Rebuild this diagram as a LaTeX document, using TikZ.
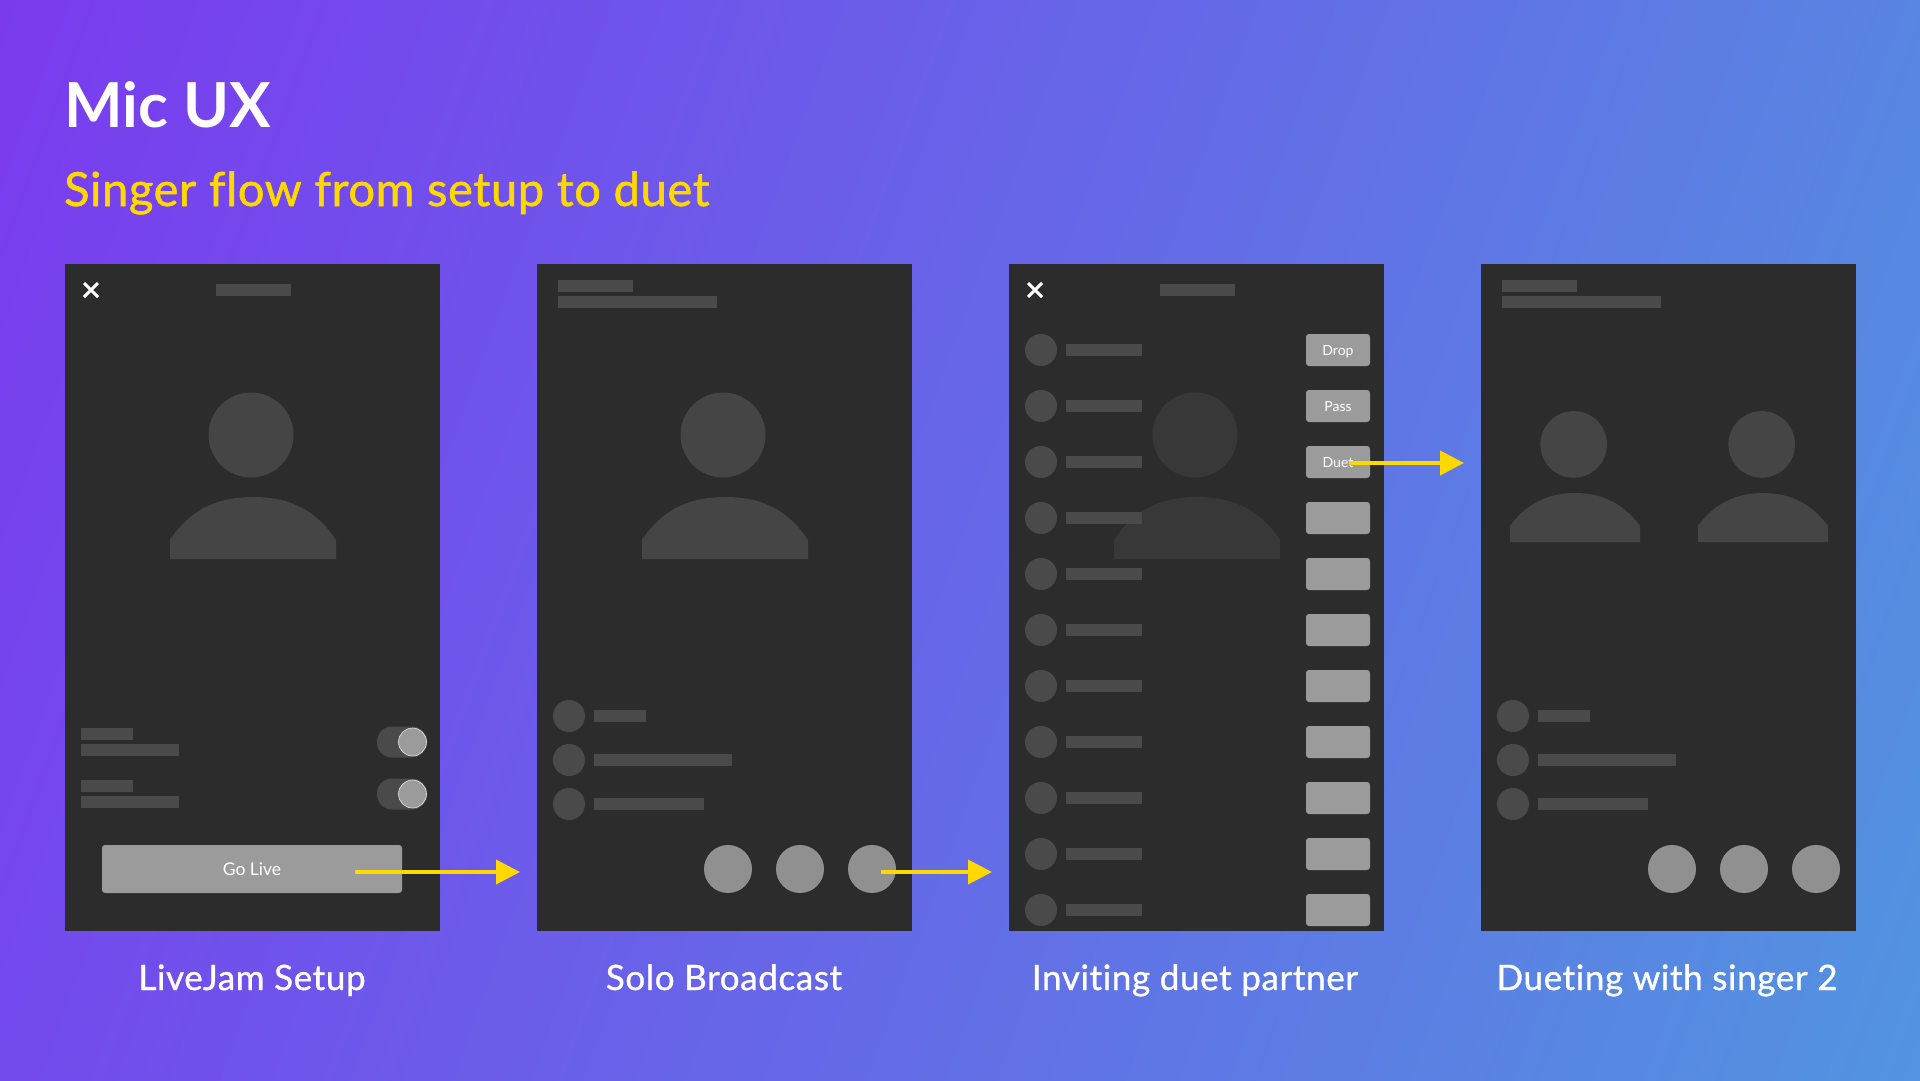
\documentclass[tikz,border=0pt]{standalone}
\usepackage{fontspec}
\setmainfont{Lato}[Ligatures=NoCommon]
\newfontfamily\subtitlefont{Lato}[FakeBold=1.2,LetterSpace=1.4,Ligatures=NoCommon]
\newfontfamily\captionfont{Lato}[FakeBold=0.9,LetterSpace=1.8,Ligatures=NoCommon]
\usetikzlibrary{arrows.meta,positioning}

\definecolor{bgstart}{HTML}{7A3BEF}
\definecolor{bgend}{HTML}{5294E0}
\definecolor{screen}{HTML}{2C2C2C}
\definecolor{figure}{HTML}{454545}
\definecolor{figuredim}{HTML}{383838}
\definecolor{stub}{HTML}{4A4A4A}
\definecolor{button}{HTML}{9B9B9B}
\definecolor{round}{HTML}{909090}
\definecolor{accent}{HTML}{FFD800}

\pgfdeclareverticalshading{bgsweep}{100bp}{color(0bp)=(bgend); color(18bp)=(bgend); color(82bp)=(bgstart); color(100bp)=(bgstart)}

\tikzset{
	screenbox/.style={fill=screen, minimum width=375pt, minimum height=667pt, inner sep=0pt, outer sep=0pt},
	bar/.style={fill=stub, minimum height=12pt, inner sep=0pt, anchor=west},
	dot/.style={circle, fill=stub, minimum size=32pt, inner sep=0pt},
	bigdot/.style={circle, fill=round, minimum size=48pt, inner sep=0pt},
	btn/.style={fill=button, rounded corners=3pt, minimum width=64pt, minimum height=32pt, inner sep=0pt, text=white, font=\fontsize{14}{14}\selectfont},
	btnlabel/.style={btn, fill=none, text height=10.6pt, text depth=0pt},
	caption/.style={text=white, font=\fontsize{35}{35}\selectfont\captionfont, anchor=base},
	link/.style={draw=accent, line width=4pt, -{Triangle[length=24pt,width=24pt,fill=accent]}},
}

% colour, head x, head y, radius, body x, half width, top, shoulder, bottom
\newcommand{\drawperson}[9]{
	\fill[#1] (#2,#3) circle (#4pt);
	\fill[#1] (#5-#6,#9) -- (#5-#6,#8) .. controls (#5-#6*0.72,#7+8) and (#5-#6*0.36,#7) .. (#5,#7)
		.. controls (#5+#6*0.36,#7) and (#5+#6*0.72,#7+8) .. (#5+#6,#8) -- (#5+#6,#9) -- cycle;
}

\begin{document}
\begin{tikzpicture}[x=1pt, y=-1pt]
	\useasboundingbox (0,0) rectangle (1920,1080);
	\shade[shading=bgsweep, shading angle=70] (0,0) rectangle (1920,1080);

	% Title
	\node[anchor=base west, inner sep=0pt, text=white, font=\fontsize{62}{62}\selectfont\bfseries] (title) at (64,127) {Mic UX};
	\node[anchor=base west, inner sep=0pt, text=accent, font=\fontsize{47}{47}\selectfont\subtitlefont] (subtitle) at (64,206) {Singer flow from setup to duet};

	% Draw the screens
	\node[screenbox, anchor=north west] (s1) at (65,264) {};
	\node[screenbox, right=97pt of s1] (s2) {};
	\node[screenbox, right=97pt of s2] (s3) {};
	\node[screenbox, right=97pt of s3] (s4) {};

	% Captions
	\node[caption] (c1) at (252,990) {LiveJam Setup};
	\node[caption] (c2) at (724,990) {Solo Broadcast};
	\node[caption] (c3) at (1195,990) {Inviting duet partner};
	\node[caption] (c4) at (1667,990) {Dueting with singer 2};

	% Figures
	\drawperson{figure}{251}{435}{42.5}{253}{83}{497}{540}{559}
	\drawperson{figure}{723}{435}{42.5}{725}{83}{497}{540}{559}
	\drawperson{figuredim}{1195}{435}{42.5}{1197}{83}{497}{540}{559}
	\drawperson{figure}{1573.7}{444.4}{33.3}{1575}{65}{493}{526}{542}
	\drawperson{figure}{1761.7}{444.4}{33.3}{1763}{65}{493}{526}{542}

	% Close icons and top bars
	\foreach \i/\x in {1/65,3/1009} {
		\draw[white, line width=3pt] (\x+19,283) -- (\x+33,297) (\x+33,283) -- (\x+19,297);
		\node[bar, minimum width=75pt] (top\i) at (\x+151,290) {};
	}
	\foreach \i/\x in {2/537,4/1481} {
		\node[bar, minimum width=75pt] (top\i a) at (\x+21,286) {};
		\node[bar, minimum width=159pt] (top\i b) at (\x+21,302) {};
		% comment rows
		\node[dot] (d\i a) at (\x+32,716) {};
		\node[dot] (d\i b) at (\x+32,760) {};
		\node[dot] (d\i c) at (\x+32,804) {};
		\node[bar, minimum width=52pt] (l\i a) at (\x+57,716) {};
		\node[bar, minimum width=138pt] (l\i b) at (\x+57,760) {};
		\node[bar, minimum width=110pt] (l\i c) at (\x+57,804) {};
		% round buttons
		\node[bigdot] (r\i a) at (\x+191,869) {};
		\node[bigdot] (r\i b) at (\x+263,869) {};
		\node[bigdot] (r\i c) at (\x+335,869) {};
	}

	% Setup rows with toggles
	\foreach \n/\y in {1/734,2/786} {
		\node[bar, minimum width=52pt] (o\n a) at (81,\y) {};
		\node[bar, minimum width=98pt] (o\n b) at (81,\y+16) {};
		\node[fill=stub, rounded corners=15pt, minimum width=50pt, minimum height=31pt, inner sep=0pt] (t\n) at (402,\y+8) {};
		\node[circle, fill=button, draw=white!75!button, line width=0.6pt, minimum size=28pt, inner sep=0pt] (k\n) at (412.5,\y+8) {};
	}
	\node[btn, minimum width=300pt, minimum height=48pt, font=\fontsize{17.5}{17.5}\selectfont] (golive) at (252,869) {Go Live};

	% Partner list
	\foreach \n [evaluate=\n as \y using 350+56*(\n-1)] in {1,...,11} {
		\node[dot] (pd\n) at (1041,\y) {};
		\node[bar, minimum width=76pt] (pb\n) at (1066,\y) {};
		\node[btn] (pa\n) at (1338,\y) {};
	}
	\node[btnlabel] (drop) at (pa1) {Drop};
	\node[btnlabel] (pass) at (pa2) {Pass};
	\node[btnlabel] (duet) at (pa3) {Duet};

	% Connect the screens with arrows
	\coordinate (from1) at (355,872);
	\coordinate (to1) at (520,872);
	\coordinate (from2) at (881,872);
	\coordinate (to2) at (992,872);
	\coordinate (from3) at (1349,463);
	\coordinate (to3) at (1464,463);
	\draw[link] (from1) -- (to1);
	\draw[link] (from2) -- (to2);
	\draw[link] (from3) -- (to3);
\end{tikzpicture}
\end{document}
